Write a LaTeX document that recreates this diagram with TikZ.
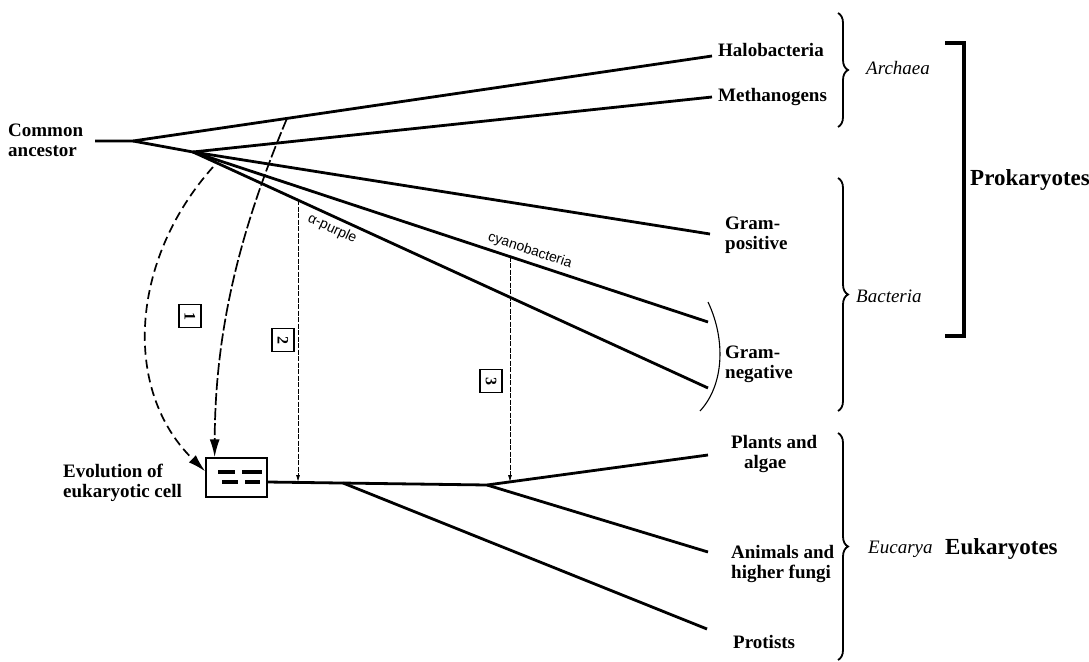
\documentclass[tikz,border=0pt]{standalone}
\usepackage{fontspec}
\setmainfont{Liberation Serif}
\setsansfont{Liberation Sans}
\usetikzlibrary{arrows.meta,calc,decorations.pathreplacing}

\begin{document}
\begin{tikzpicture}[x=1pt,y=-1pt,
  branch/.style={line width=2.8pt},
  transfer/.style={line width=1.7pt, dash pattern=on 9pt off 5pt, -{Latex[length=18pt,width=10pt]}},
  capture/.style={line width=0.8pt, dash pattern=on 5pt off 1.5pt, -{Latex[length=7pt,width=4pt]}},
  taxon/.style={font=\bfseries\fontsize{19}{20}\selectfont, anchor=west, align=left, inner sep=0pt},
  domainlabel/.style={font=\itshape\fontsize{19}{20}\selectfont, anchor=west, inner sep=0pt},
  realm/.style={font=\bfseries\fontsize{23}{26}\selectfont, anchor=west, inner sep=0pt},
  tag/.style={font=\sffamily\fontsize{14}{15}\selectfont, sloped, inner sep=4pt},
  numbox/.style={draw, line width=1.5pt, rotate=-90, font=\bfseries\fontsize{16}{16}\selectfont,
    minimum width=23pt, minimum height=22pt, inner sep=0pt},
  bracegroup/.style={decorate, decoration={brace, amplitude=10pt}, line width=1.8pt}]
\useasboundingbox (0,0) rectangle (1089,661);

% prokaryote tree
\coordinate (root) at (95,141);
\coordinate (split) at (133,141);
\coordinate (bact) at (193,152);
\coordinate (halo) at (712,56);
\coordinate (meth) at (712,97);
\coordinate (gpos) at (710,234);
\coordinate (cyano) at (708,322);
\coordinate (purple) at (708,388);
\draw[branch] (root) -- (split) -- (halo);
\draw[branch] (split) -- (bact) -- (meth);
\draw[branch] (bact) -- (gpos);
\draw[branch] (bact) -- (cyano) node[tag, pos=0.647, above] {cyanobacteria};
\draw[branch] (bact) -- (purple) node[tag, pos=0.28, below] {α-purple};
\draw[line width=1.1pt] (708,302) .. controls (726,340) and (724,385) .. (700,411);

% eukaryote tree
\node[draw, line width=1.4pt, minimum width=61pt, minimum height=39pt, inner sep=0pt] (cell) at (236.5,477.5) {};
\draw[line width=3.5pt] (218,472) -- (235,472) (242,472) -- (262,472)
  (222,482) -- (238,482) (245,482) -- (260,482);
\coordinate (trunk) at (267,482);
\coordinate (euk) at (487,485);
\coordinate (protroot) at (343,483);
\coordinate (plant) at (708,455);
\coordinate (anim) at (708,552);
\coordinate (prot) at (707,629);
\draw[branch] (trunk) -- (euk) -- (plant);
\draw[branch] (euk) -- (anim);
\draw[branch] (protroot) -- (prot);

% endosymbiosis events
\coordinate (src1) at (213,167);
\coordinate (src2) at ($(split)!0.266!(halo)$);
\coordinate (src3) at ($(bact)!0.2039!(purple)$);
\coordinate (src4) at ($(bact)!0.6155!(cyano)$);
\draw[transfer] (src1) .. controls (130,260) and (122,390) .. ($(cell.north west)!0.35!(cell.south west)$);
\draw[transfer, dash pattern=on 12pt off 3pt] (src2) .. controls (240,230) and (215,330) .. ($(cell.north west)!0.15!(cell.north east)$);
\draw[capture] (src3) -- (src3 |- trunk);
\draw[capture] (src4) -- (src4 |- trunk);
\node[numbox] (n1) at (190,316) {1};
\node[numbox] (n2) at (283,340) {2};
\node[numbox] (n3) at (491,381) {3};

% labels
\node[taxon] (ancestor) at (8,140) {Common\\ancestor};
\node[taxon] (evol) at (63,483) {Evolution of\\eukaryotic cell};
\node[taxon] (halot) at (718,50) {Halobacteria};
\node[taxon] (metht) at (718,97) {Methanogens};
\node[taxon] (gpost) at (725,235) {Gram-\\positive};
\node[taxon] (gnegt) at (725,364) {Gram-\\negative};
\node[taxon] (plantt) at (731,454) {Plants and\\\hspace*{13pt}algae};
\node[taxon] (animt) at (731,564) {Animals and\\higher fungi};
\node[taxon] (prott) at (733,642) {Protists};

% domains
\draw[bracegroup] (838,13) -- (838,127);
\draw[bracegroup] (838,178) -- (838,411);
\draw[bracegroup] (838,433) -- (838,660);
\node[domainlabel] (archaea) at (866,68) {Archaea};
\node[domainlabel] (bacteria) at (856,296) {Bacteria};
\node[domainlabel] (eucarya) at (868,549) {Eucarya};
\draw[line width=4pt] (945,43) -| (964,336) -- (945,336);
\node[realm] (prokt) at (970,180) {Prokaryotes};
\node[realm] (eukt) at (945,549) {Eukaryotes};
\end{tikzpicture}
\end{document}
